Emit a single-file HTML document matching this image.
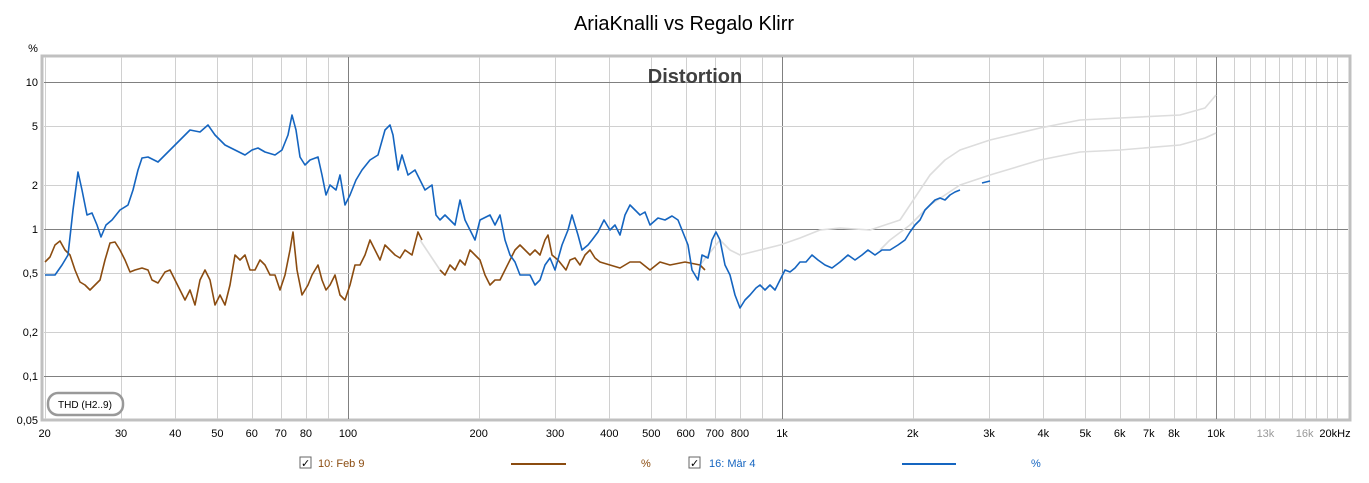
<!DOCTYPE html><html><head><style>body{margin:0;background:#fff;width:1369px;height:478px;overflow:hidden;font-family:"Liberation Sans",sans-serif}</style></head><body>
<svg id="s" width="1369" height="478" xmlns="http://www.w3.org/2000/svg" font-family="Liberation Sans, sans-serif">
<text x="684" y="30" font-size="20" text-anchor="middle" fill="#000">AriaKnalli vs Regalo Klirr</text>
<rect x="42" y="56" width="1308" height="364" fill="#fff" stroke="#c0c0c0" stroke-width="3"/>
<g id="grid"></g>
<text x="695" y="83" font-size="20" font-weight="bold" text-anchor="middle" fill="#404040">Distortion</text>
<text x="33" y="52" font-size="11" text-anchor="middle">%</text>
<g font-size="11" text-anchor="end"><text x="38" y="86">10</text><text x="38" y="130">5</text><text x="38" y="189">2</text><text x="38" y="233">1</text><text x="38" y="277">0,5</text><text x="38" y="336">0,2</text><text x="38" y="380">0,1</text><text x="38" y="424">0,05</text></g>
<g id="xl" font-size="11" text-anchor="middle"></g>
<g fill="none" stroke-width="1.6" stroke-linejoin="round">
<polyline stroke="#ddd" points="420,240 430,255 440,270 M0,0"/>
<polyline stroke="#ddd" points="700,265 720,240 730,250 740,255 760,250 780,245 800,238 820,230 840,228 870,230 900,220 910,205 920,190 930,175 945,160 960,150 990,140 1040,128 1080,120 1120,118 1180,115 1205,108 1216,95"/>
<polyline stroke="#ddd" points="880,250 890,240 910,225 930,205 960,185 990,175 1040,160 1080,152 1120,150 1180,145 1205,138 1216,133"/>
<polyline stroke="#8b4c10" points="45,262 50,257 55,245 60,241 65,250 70,255 75,270 80,282 85,285 90,290 95,285 100,280 105,260 110,243 115,242 120,250 125,260 130,272 135,270 142,268 148,270 152,280 158,283 165,272 170,270 175,280 180,290 185,300 190,290 195,305 200,280 205,270 210,280 215,305 220,295 225,305 230,285 235,255 240,260 245,255 250,270 255,270 260,260 265,265 270,275 275,275 280,290 285,275 290,250 293,232 297,270 302,295 308,285 312,275 318,265 322,280 326,290 330,285 335,275 340,295 345,300 350,285 355,265 360,265 365,255 370,240 375,250 380,260 385,245 390,250 395,255 400,258 405,250 412,255 418,232 422,240"/>
<polyline stroke="#8b4c10" points="440,270 445,275 450,265 455,270 460,260 465,265 470,250 475,255 480,260 485,275 490,285 495,280 500,280 505,270 510,260 515,250 520,245 525,250 530,255 535,250 540,255 545,240 548,235 552,255 558,260 562,265 566,270 570,260 575,258 580,265 585,255 590,250 595,258 600,262 610,265 620,268 630,262 640,262 650,270 660,262 670,265 685,262 700,265 705,270"/>
<polyline stroke="#1565c0" points="45,275 55,275 62,265 68,255 73,210 78,172 82,190 87,215 92,213 97,225 101,237 106,225 112,220 120,210 128,205 133,190 138,170 142,158 148,157 158,162 168,152 180,140 190,130 200,132 208,125 215,135 225,145 235,150 245,155 252,150 258,148 265,152 275,155 282,150 288,135 292,115 296,130 300,157 305,165 310,160 318,157 322,175 326,195 330,185 336,190 340,175 345,205 350,195 356,180 362,170 370,160 378,155 385,130 390,125 393,135 398,170 402,155 408,175 415,170 420,180 425,190 432,185 436,215 440,220 445,215 455,225 460,200 465,220 470,230 475,240 480,220 490,215 495,225 500,215 505,240 510,255 515,262 520,275 530,275 535,285 540,280 545,265 550,258 555,270 562,245 568,230 572,215 578,235 582,250 588,245 592,240 598,232 604,220 610,230 615,225 620,235 625,215 630,205 635,210 640,215 645,212 650,225 658,218 665,220 672,216 678,220 682,230 688,245 692,270 698,280 702,255 708,258 712,240 716,232 720,240 725,265 730,275 735,295 740,308 745,300 750,295 756,288 760,285 765,290 770,285 775,290 780,280 785,270 790,272 795,268 800,262 806,262 812,255 818,260 825,265 832,268 840,262 848,255 855,260 862,255 868,250 875,255 882,250 890,250 898,245 905,240 910,232 915,225 920,220 925,210 930,205 935,200 940,198 945,200 950,195 955,192 960,190"/>
<polyline stroke="#1565c0" points="982,183 990,181"/>
</g>
<rect x="48" y="393" width="75" height="22" rx="10" fill="#fff" stroke="#999" stroke-width="2.5"/>
<text x="85" y="408" font-size="10" text-anchor="middle">THD (H2..9)</text>
<g font-size="11">
<rect x="300" y="457" width="11" height="11" fill="#fff" stroke="#666"/><text x="301" y="467" font-size="11">✓</text>
<text x="318" y="467" fill="#8b4c10">10: Feb 9</text><line x1="511" y1="464" x2="566" y2="464" stroke="#8b4c10" stroke-width="2"/><text x="641" y="467" fill="#8b4c10">%</text>
<rect x="689" y="457" width="11" height="11" fill="#fff" stroke="#666"/><text x="690" y="467" font-size="11">✓</text>
<text x="709" y="467" fill="#1565c0">16: Mär 4</text><line x1="902" y1="464" x2="956" y2="464" stroke="#1565c0" stroke-width="2"/><text x="1031" y="467" fill="#1565c0">%</text>
</g>
</svg>
<script>
var g=document.getElementById('grid'),xl=document.getElementById('xl'),ns='http://www.w3.org/2000/svg';
function X(f){return 348+434*Math.log10(f/100);}
function Y(v){return 229-147*Math.log10(v);}
function ln(x1,y1,x2,y2,c){var l=document.createElementNS(ns,'line');l.setAttribute('x1',x1);l.setAttribute('y1',y1);l.setAttribute('x2',x2);l.setAttribute('y2',y2);l.setAttribute('stroke',c);l.setAttribute('stroke-width',1);g.appendChild(l);}
[20,30,40,50,60,70,80,90,100,200,300,400,500,600,700,800,900,1000,2000,3000,4000,5000,6000,7000,8000,9000,10000,11000,12000,13000,14000,15000,16000,17000,18000,19000].forEach(function(f){var x=Math.round(X(f))+0.5;ln(x,57,x,419,(f==100||f==1000||f==10000)?'#808080':'#d0d0d0');});
[10,5,2,1,0.5,0.2,0.1].forEach(function(v){var y=Math.round(Y(v))+0.5;ln(44,y,1348,y,(v==10||v==1||v==0.1)?'#808080':'#d0d0d0');});
var L=[[20,'20'],[30,'30'],[40,'40'],[50,'50'],[60,'60'],[70,'70'],[80,'80'],[100,'100'],[200,'200'],[300,'300'],[400,'400'],[500,'500'],[600,'600'],[700,'700'],[800,'800'],[1000,'1k'],[2000,'2k'],[3000,'3k'],[4000,'4k'],[5000,'5k'],[6000,'6k'],[7000,'7k'],[8000,'8k'],[10000,'10k'],[13000,'13k',1],[16000,'16k',1],[20000,'20kHz']];
L.forEach(function(a){var t=document.createElementNS(ns,'text');t.setAttribute('x',Math.min(X(a[0]),1335));t.setAttribute('y',437);if(a[2])t.setAttribute('fill','#999');t.textContent=a[1];xl.appendChild(t);});
</script>
</body></html>
